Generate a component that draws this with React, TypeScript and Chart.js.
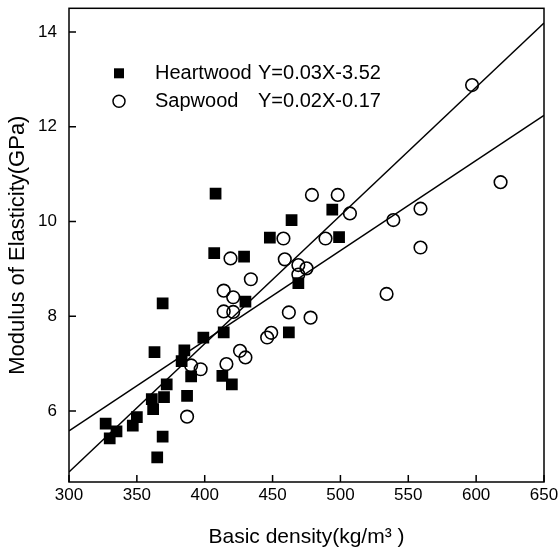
import { useEffect, useRef } from "react";
import { Chart, registerables } from "chart.js";

Chart.register(...registerables);

// Heartwood (filled squares)
const heartX = [327, 330, 335, 347, 350, 361, 362, 363, 365, 369, 370, 372, 369, 383, 385, 387, 390, 399, 407, 408, 413, 414, 420, 429, 430, 448, 462, 464, 469, 494, 499];
const heartY = [5.73, 5.42, 5.57, 5.69, 5.87, 6.25, 6.04, 7.24, 5.02, 5.46, 6.29, 6.56, 8.27, 7.05, 7.28, 6.32, 6.73, 7.55, 9.33, 10.59, 6.74, 7.66, 6.56, 9.26, 8.31, 9.66, 7.66, 10.03, 8.70, 10.25, 9.67];

// Sapwood (open circles)
const sapX = [387, 390, 397, 416, 419, 414, 421, 414, 421, 426, 430, 434, 446, 449, 458, 459, 462, 469, 475, 469, 478, 479, 498, 489, 507, 534, 539, 559, 559, 597, 618];
const sapY = [5.88, 6.96, 6.88, 6.99, 9.22, 8.54, 8.40, 8.10, 8.09, 7.27, 7.13, 8.78, 7.55, 7.65, 9.64, 9.20, 8.08, 9.08, 9.01, 8.88, 7.97, 10.56, 10.56, 9.64, 10.17, 8.47, 10.03, 10.27, 9.45, 12.88, 10.83];

// Fitted lines (end points as drawn)
const steepLineX = [300, 650];
const steepLineY = [4.71, 14.19];
const flatLineX = [300, 650];
const flatLineY = [5.58, 12.24];

const xTicks = [300, 350, 400, 450, 500, 550, 600, 650];
const yTicks = [6, 8, 10, 12, 14];
const xRange = [300, 650];
const yRange = [4.5, 14.5];

const legendNames = ["Heartwood", "Sapwood"];
const legendEquations = ["Y=0.03X-3.52", "Y=0.02X-0.17"];
const xTitle = "Basic density(kg/m\u00B3 )";
const yTitle = "Modulus of Elasticity(GPa)";

const FONT = "Arial, 'Liberation Sans', sans-serif";

const toPts = (xs: number[], ys: number[]) => xs.map((x, i) => ({ x, y: ys[i] }));

const framePlugin = {
  id: "frameAndLegend",
  afterDraw(chart: any) {
    const { ctx, chartArea: a, scales } = chart;
    ctx.save();
    ctx.strokeStyle = "#000";
    ctx.lineWidth = 1.5;
    ctx.strokeRect(a.left, a.top, a.right - a.left, a.bottom - a.top);
    const len = 7;
    ctx.beginPath();
    for (const t of scales.x.ticks) {
      const px = scales.x.getPixelForValue(t.value);
      ctx.moveTo(px, a.bottom);
      ctx.lineTo(px, a.bottom - len);
    }
    for (const t of scales.y.ticks) {
      const py = scales.y.getPixelForValue(t.value);
      ctx.moveTo(a.left, py);
      ctx.lineTo(a.left + len, py);
    }
    ctx.stroke();

    // legend
    const mx = a.left + 50;
    const rows = [a.top + 65, a.top + 93];
    ctx.fillStyle = "#000";
    ctx.fillRect(mx - 5, rows[0] - 5, 10, 10);
    ctx.beginPath();
    ctx.arc(mx, rows[1], 6, 0, Math.PI * 2);
    ctx.lineWidth = 1.5;
    ctx.stroke();
    ctx.font = `20px ${FONT}`;
    ctx.textBaseline = "middle";
    ctx.textAlign = "left";
    legendNames.forEach((n, i) => {
      ctx.fillText(n, a.left + 86, rows[i]);
      ctx.fillText(legendEquations[i], a.left + 189, rows[i]);
    });
    ctx.restore();
  },
};

export default function App() {
  const ref = useRef<HTMLCanvasElement | null>(null);
  useEffect(() => {
    if (!ref.current) return;
    Chart.defaults.font.family = FONT;
    Chart.defaults.color = "#000";
    const chart = new Chart(ref.current, {
      type: "scatter",
      data: {
        datasets: [
          {
            label: "Heartwood",
            data: toPts(heartX, heartY),
            pointStyle: "rect",
            pointRadius: 8.3,
            backgroundColor: "#000",
            borderColor: "#000",
            borderWidth: 0,
          },
          {
            label: "Sapwood",
            data: toPts(sapX, sapY),
            pointStyle: "circle",
            pointRadius: 6.3,
            backgroundColor: "rgba(0,0,0,0)",
            borderColor: "#000",
            borderWidth: 1.6,
          },
          {
            label: "fit1",
            data: toPts(steepLineX, steepLineY),
            showLine: true,
            pointRadius: 0,
            borderColor: "#000",
            borderWidth: 1.5,
          },
          {
            label: "fit2",
            data: toPts(flatLineX, flatLineY),
            showLine: true,
            pointRadius: 0,
            borderColor: "#000",
            borderWidth: 1.5,
          },
        ],
      },
      options: {
        animation: false,
        responsive: false,
        layout: { padding: { top: 7, right: 16, left: 0, bottom: 0 } },
        plugins: { legend: { display: false }, tooltip: { enabled: false } },
        scales: {
          x: {
            type: "linear",
            min: xRange[0],
            max: xRange[1],
            afterBuildTicks: (s: any) => {
              s.ticks = xTicks.map((v) => ({ value: v }));
            },
            afterFit: (s: any) => {
              s.height = 71;
              s.paddingLeft = 0;
              s.paddingRight = 0;
            },
            grid: { display: true, drawOnChartArea: false, drawTicks: false },
            border: { display: false },
            ticks: { font: { size: 17 }, padding: 3, maxRotation: 0, autoSkip: false, color: "#000" },
            title: { display: true, text: xTitle, font: { size: 21 }, padding: { top: 0, bottom: 3 }, color: "#000" },
          },
          y: {
            type: "linear",
            min: yRange[0],
            max: yRange[1],
            afterBuildTicks: (s: any) => {
              s.ticks = yTicks.map((v) => ({ value: v }));
            },
            afterFit: (s: any) => {
              s.width = 69;
              s.paddingTop = 0;
              s.paddingBottom = 0;
            },
            grid: { display: true, drawOnChartArea: false, drawTicks: false },
            border: { display: false },
            ticks: { font: { size: 17 }, padding: 12, autoSkip: false, color: "#000" },
            title: { display: true, text: yTitle, font: { size: 22 }, padding: { top: 5, bottom: 0 }, color: "#000" },
          },
        },
      },
      plugins: [framePlugin],
    });
    return () => chart.destroy();
  }, []);
  return (
    <div style={{ position: "fixed", left: 0, top: 0, width: 560, height: 553, background: "#fff" }}>
      <canvas ref={ref} width={560} height={553} style={{ display: "block" }} />
    </div>
  );
}
